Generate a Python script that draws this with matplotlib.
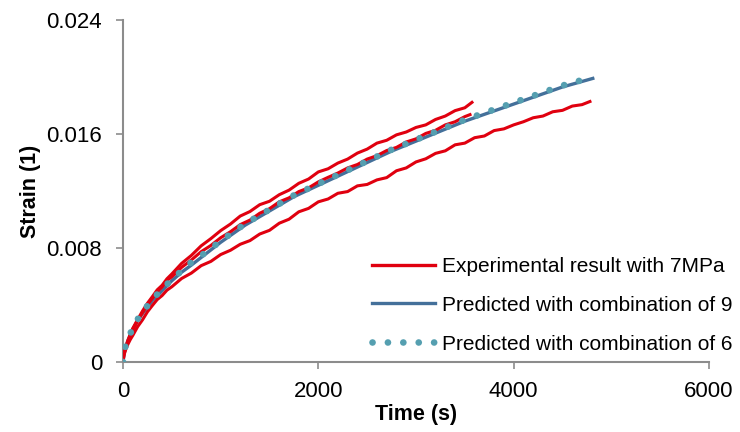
import matplotlib
matplotlib.use('Agg')
import matplotlib.pyplot as plt
from matplotlib.lines import Line2D

plt.rcParams['font.family'] = ['Liberation Sans', 'DejaVu Sans']

# creep test at 7 MPa, three specimens
exp1_t = [0, 10, 25, 50, 75, 100, 150, 200, 250, 300, 350, 400, 450, 500,
          600, 700, 800, 900, 1000, 1100, 1200, 1300, 1400, 1500, 1600, 1700,
          1800, 1900, 2000, 2100, 2200, 2300, 2400, 2500, 2600, 2700, 2800,
          2900, 3000, 3100, 3200, 3300, 3400, 3500, 3573]
exp1 = [0, 0.00062, 0.00098, 0.00152, 0.00196, 0.00236, 0.00298, 0.00358,
        0.00412, 0.00458, 0.00506, 0.00538, 0.00584, 0.00618, 0.00692,
        0.00748, 0.00815, 0.00866, 0.00922, 0.00968, 0.01024, 0.01056,
        0.01104, 0.01128, 0.01174, 0.01206, 0.01254, 0.01284, 0.01334,
        0.01356, 0.01396, 0.01424, 0.01466, 0.01494, 0.01536, 0.01556,
        0.01594, 0.01614, 0.01646, 0.01664, 0.01702, 0.01726, 0.01764,
        0.01784, 0.01822]

exp2_t = [0, 10, 25, 50, 75, 100, 150, 200, 250, 300, 350, 400, 450, 500,
          600, 700, 800, 900, 1000, 1100, 1200, 1300, 1400, 1500, 1600, 1700,
          1800, 1900, 2000, 2100, 2200, 2300, 2400, 2500, 2600, 2700, 2800,
          2900, 3000, 3100, 3200, 3300, 3400, 3500, 3553]
exp2 = [0, 0.00058, 0.00092, 0.00144, 0.00186, 0.00222, 0.00292, 0.00346,
        0.00402, 0.00446, 0.00494, 0.00526, 0.00572, 0.00598, 0.00664,
        0.00716, 0.00774, 0.00818, 0.00872, 0.00914, 0.00964, 0.00996,
        0.01044, 0.01076, 0.01124, 0.01152, 0.01196, 0.01222, 0.01264,
        0.01296, 0.01326, 0.01362, 0.01386, 0.01424, 0.01448, 0.01484,
        0.01506, 0.01544, 0.01566, 0.01604, 0.01626, 0.01664, 0.01686,
        0.01722, 0.01736]

exp3_t = [0, 10, 25, 50, 75, 100, 150, 200, 250, 300, 350, 400, 450, 500,
          600, 700, 800, 900, 1000, 1100, 1200, 1300, 1400, 1500, 1600, 1700,
          1800, 1900, 2000, 2100, 2200, 2300, 2400, 2500, 2600, 2700, 2800,
          2900, 3000, 3100, 3200, 3300, 3400, 3500, 3600, 3700, 3800, 3900,
          4000, 4100, 4200, 4300, 4400, 4500, 4600, 4700, 4781]
exp3 = [0, 0.00048, 0.00082, 0.00124, 0.00158, 0.00186, 0.00248, 0.00296,
        0.00352, 0.00396, 0.00438, 0.00466, 0.00504, 0.00528, 0.00586,
        0.00624, 0.00676, 0.00706, 0.00754, 0.00784, 0.00826, 0.00852,
        0.00898, 0.00924, 0.00974, 0.01002, 0.01054, 0.01078, 0.01124,
        0.01144, 0.01184, 0.01196, 0.01236, 0.01246, 0.01278, 0.01294,
        0.01342, 0.01362, 0.01404, 0.01426, 0.01464, 0.01482, 0.01524,
        0.01536, 0.01574, 0.01586, 0.01624, 0.01636, 0.01664, 0.01686,
        0.01714, 0.01726, 0.01756, 0.01766, 0.01796, 0.01806, 0.01828]

# model predictions
pred_t = [0, 10, 25, 50, 75, 100, 150, 200, 300, 400, 500, 600, 700, 850,
          1000, 1250, 1500, 1750, 2000, 2250, 2500, 2750, 3000, 3250, 3500,
          3750, 4000, 4250, 4500, 4810]
pred9 = [0, 0.0005, 0.0010, 0.0015, 0.0019, 0.0023, 0.0029, 0.0034, 0.0043,
         0.0050, 0.0057, 0.0063, 0.0068, 0.0076, 0.0084, 0.0096, 0.0106,
         0.0116, 0.0124, 0.0132, 0.0140, 0.0148, 0.0155, 0.0162, 0.0169,
         0.0175, 0.0181, 0.0187, 0.0193, 0.0199]
pred6 = [0, 0.0006, 0.0011, 0.0016, 0.0020, 0.0024, 0.0030, 0.0035, 0.0044,
         0.0051, 0.0058, 0.0064, 0.0070, 0.0077, 0.0085, 0.0097, 0.0107,
         0.0117, 0.0125, 0.0133, 0.0141, 0.0149, 0.0156, 0.0163, 0.0170,
         0.0176, 0.0182, 0.0188, 0.0194, 0.0200]

labels = ['Experimental result with 7MPa', 'Predicted with combination of 9',
          'Predicted with combination of 6']
yticks = [0, 0.008, 0.016, 0.024]
ytick_labels = ['0', '0.008', '0.016', '0.024']
xticks = [0, 2000, 4000, 6000]

red = '#E0000F'
blue = '#44709A'
teal = '#559FB0'
grey = '#8C8C8C'

fig = plt.figure(figsize=(7.4, 4.32), dpi=100)
ax = fig.add_axes([123 / 740, 1 - 362 / 432, (709 - 123) / 740, (362 - 20) / 432])

ax.plot(pred_t, pred9, color=blue, lw=2.4, zorder=2)
for t, s in [(exp1_t, exp1), (exp3_t, exp3), (exp2_t, exp2)]:
    ax.plot(t, s, color=red, lw=2.2, zorder=3)
dot_style = (0, (0.01, 2.3))
ax.plot(pred_t, pred6, color=teal, lw=4.8, linestyle=dot_style,
        dash_capstyle='round', zorder=4)

ax.set_xlim(0, 6000)
ax.set_ylim(0, 0.024)
ax.set_xticks(xticks)
ax.set_xticklabels([str(x) for x in xticks])
ax.set_yticks(yticks)
ax.set_yticklabels(ytick_labels)

for side in ['top', 'right']:
    ax.spines[side].set_visible(False)
for side in ['left', 'bottom']:
    ax.spines[side].set_color(grey)
    ax.spines[side].set_linewidth(1.5)
ax.tick_params(axis='both', direction='out', length=5, width=1.2, color=grey,
               labelsize=16, labelcolor='black')
ax.tick_params(axis='y', pad=10)
ax.tick_params(axis='x', pad=9)

ax.set_xlabel('Time (s)', fontsize=15.5, fontweight='bold', labelpad=1)
ax.set_ylabel('Strain (1)', fontsize=15.5, fontweight='bold', labelpad=4)

handles = [
    Line2D([], [], color=red, lw=2.4),
    Line2D([], [], color=blue, lw=2.4),
    Line2D([], [], color=teal, lw=4.8, linestyle=dot_style, dash_capstyle='round'),
]
fig.legend(handles, labels, loc='upper left', bbox_to_anchor=(372 / 740, 1 - 257 / 432),
           frameon=False, fontsize=15, handlelength=3.0, handletextpad=0.35,
           labelspacing=0.95, borderpad=0, borderaxespad=0)

fig.savefig('out.png', dpi=100)
